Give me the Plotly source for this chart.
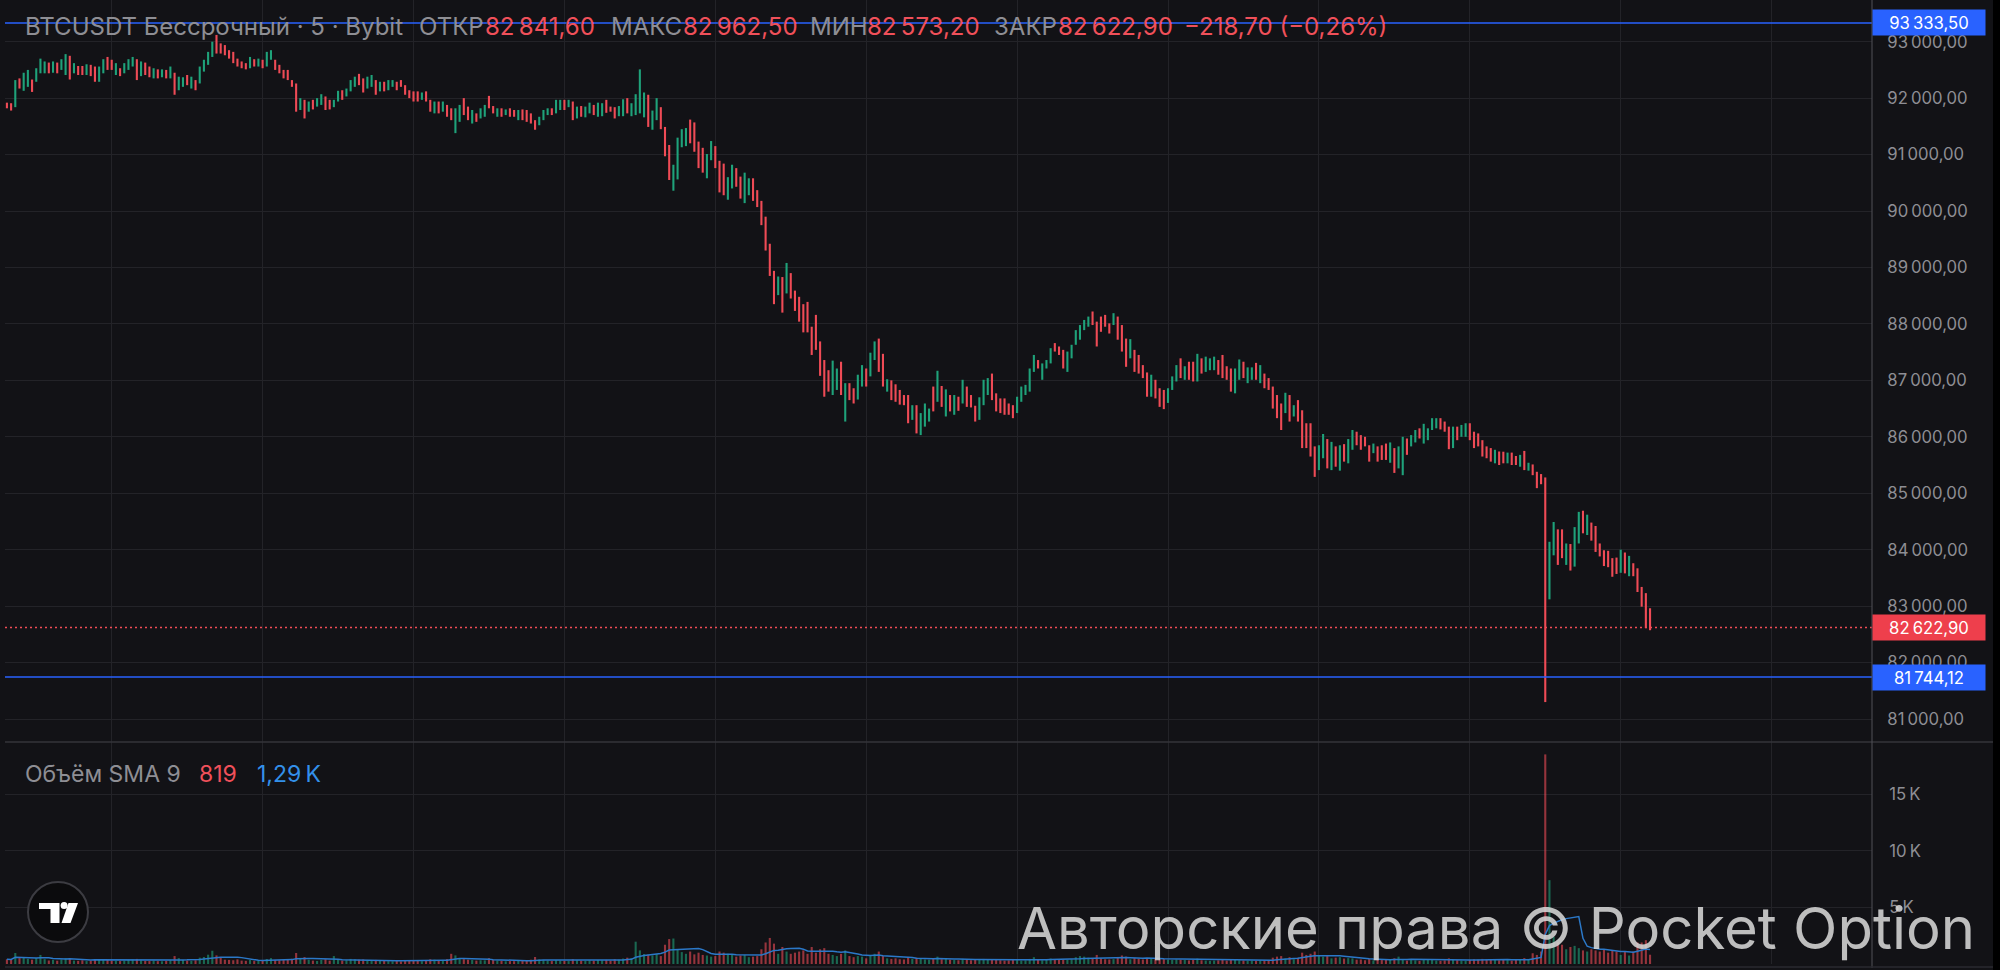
import plotly.graph_objects as go
import pandas as pd

# BTCUSDT perpetual, 5 min bars
bar_low = [
    91820, 91780, 91840, 92170, 92130, 92200, 92110, 92290, 92440, 92440,
    92440, 92450, 92440, 92500, 92410, 92330, 92440, 92410, 92410, 92410,
    92390, 92290, 92290, 92440, 92500, 92500, 92410, 92390, 92440, 92500,
    92560, 92320, 92390, 92410, 92370, 92350, 92350, 92370, 92350, 92350,
    92060, 92140, 92200, 92230, 92170, 92140, 92260, 92470, 92590, 92730,
    92790, 92790, 92760, 92700, 92620, 92560, 92530, 92510, 92530, 92560,
    92560, 92530, 92560, 92680, 92500, 92440, 92350, 92320, 92200, 91760,
    91790, 91640, 91760, 91800, 91850, 91880, 91790, 91800, 91840, 91940,
    91970, 92030, 92120, 92200, 92230, 92100, 92170, 92200, 92060, 92120,
    92120, 92140, 92200, 92140, 92200, 92060, 92000, 91940, 91940, 91970,
    91940, 91760, 91730, 91730, 91760, 91670, 91610, 91380, 91580, 91700,
    91610, 91550, 91580, 91640, 91670, 91820, 91730, 91670, 91670, 91700,
    91670, 91670, 91610, 91610, 91580, 91550, 91440, 91520, 91610, 91700,
    91700, 91730, 91790, 91790, 91840, 91610, 91640, 91670, 91660, 91730,
    91700, 91670, 91680, 91740, 91760, 91640, 91680, 91680, 91730, 91680,
    91700, 91730, 91660, 91490, 91440, 91610, 91450, 90970, 90550, 90360,
    90560, 91130, 91150, 91200, 91050, 90760, 90680, 90580, 90900, 90760,
    90330, 90280, 90200, 90400, 90430, 90220, 90140, 90280, 90180, 90070,
    89750, 89300, 88850, 88350, 88510, 88200, 88540, 88450, 88230, 88040,
    87850, 87850, 87450, 87540, 87080, 86710, 86800, 86740, 86830, 86740,
    86270, 86650, 86590, 86660, 86890, 86890, 87070, 87360, 87150, 86890,
    86800, 86650, 86620, 86570, 86560, 86240, 86300, 86060, 86030, 86180,
    86270, 86450, 86620, 86530, 86360, 86450, 86390, 86460, 86590, 86530,
    86520, 86270, 86300, 86560, 86740, 86650, 86450, 86420, 86390, 86390,
    86330, 86420, 86620, 86740, 86800, 87150, 87210, 87010, 87210, 87300,
    87510, 87450, 87210, 87150, 87390, 87630, 87720, 87890, 87950, 87980,
    87600, 87860, 87950, 87830, 87980, 87720, 87510, 87240, 87390, 87150,
    87120, 87040, 86710, 86710, 86680, 86530, 86490, 86600, 86830, 86980,
    87040, 87010, 87010, 86980, 86980, 87120, 87150, 87180, 87180, 87100,
    87040, 87010, 86800, 86770, 87010, 87040, 86950, 87010, 87010, 86950,
    86860, 86830, 86500, 86330, 86120, 86420, 86270, 86360, 86270, 85800,
    85800, 85650, 85290, 85410, 85620, 85440, 85410, 85470, 85400, 85560,
    85530, 85770, 85850, 85770, 85830, 85560, 85710, 85560, 85590, 85590,
    85540, 85360, 85440, 85320, 85680, 85830, 85900, 85970, 85880, 85940,
    86120, 86150, 86130, 86090, 85780, 85800, 85940, 86000, 86000, 85940,
    85800, 85830, 85650, 85620, 85560, 85530, 85500, 85530, 85530, 85500,
    85500, 85470, 85410, 85400, 85320, 85090, 85160, 81300, 83120, 83900,
    83730, 83850, 83730, 83630, 83700, 84110, 84290, 84260, 84160, 83960,
    83880, 83710, 83690, 83520, 83570, 83590, 83580, 83530, 83530, 83250,
    82990, 82610, 82573.2,
]

bar_high = [
    91920, 91910, 92320, 92350, 92450, 92500, 92330, 92530, 92700, 92650,
    92630, 92650, 92630, 92690, 92780, 92750, 92620, 92570, 92570, 92600,
    92590, 92560, 92560, 92690, 92730, 92680, 92620, 92530, 92620, 92690,
    92730, 92690, 92650, 92630, 92560, 92530, 92510, 92510, 92500, 92560,
    92450, 92380, 92370, 92410, 92380, 92320, 92560, 92680, 92820, 93000,
    93120, 92970, 92940, 92850, 92820, 92700, 92650, 92620, 92730, 92690,
    92700, 92680, 92820, 92850, 92680, 92590, 92500, 92500, 92320, 92260,
    92000, 91970, 91940, 91970, 92000, 92070, 92030, 91970, 91970, 92130,
    92140, 92170, 92320, 92380, 92430, 92350, 92380, 92410, 92320, 92290,
    92290, 92320, 92320, 92290, 92320, 92230, 92140, 92120, 92120, 92100,
    92120, 91970, 91940, 91940, 91940, 91880, 91820, 91820, 91880, 92000,
    91850, 91790, 91730, 91820, 91880, 92040, 91860, 91820, 91820, 91800,
    91820, 91790, 91790, 91800, 91790, 91730, 91610, 91670, 91790, 91820,
    91820, 91970, 91970, 91970, 91970, 91940, 91850, 91860, 91850, 91920,
    91880, 91920, 91910, 91970, 91850, 91840, 91860, 91980, 92000, 91910,
    92070, 92510, 92100, 92060, 91780, 92000, 91840, 91490, 91170, 90820,
    91300, 91450, 91470, 91620, 91570, 91230, 91120, 91010, 91240, 91150,
    90890, 90840, 90600, 90820, 90760, 90610, 90680, 90580, 90580, 90370,
    90180, 89900, 89420, 88940, 88840, 88830, 89080, 88900, 88590, 88480,
    88350, 88390, 87950, 88160, 87690, 87360, 87180, 87350, 87210, 87330,
    86950, 86950, 86860, 87100, 87270, 87210, 87490, 87690, 87740, 87470,
    87020, 87000, 86930, 86830, 86740, 86740, 86560, 86560, 86420, 86590,
    86500, 86890, 87170, 86900, 86840, 86740, 86740, 86710, 87010, 86890,
    86740, 86550, 86700, 87010, 87040, 87120, 86770, 86680, 86680, 86590,
    86560, 86710, 86890, 86920, 87210, 87450, 87360, 87300, 87360, 87570,
    87660, 87600, 87540, 87510, 87630, 87890, 87980, 88070, 88130, 88220,
    88040, 88130, 88160, 88010, 88190, 88130, 87980, 87740, 87730, 87540,
    87450, 87270, 87140, 87100, 87010, 86860, 86830, 86860, 87070, 87270,
    87390, 87250, 87330, 87330, 87470, 87390, 87420, 87390, 87420, 87360,
    87450, 87250, 87210, 87210, 87370, 87330, 87230, 87230, 87310, 87270,
    87120, 87040, 86890, 86740, 86590, 86780, 86740, 86560, 86650, 86470,
    86240, 86240, 85830, 85850, 86050, 85960, 85910, 85830, 85850, 85870,
    85960, 86120, 86090, 86030, 86000, 85850, 85880, 85830, 85850, 85880,
    85900, 85800, 85830, 86000, 85970, 86030, 86120, 86150, 86230, 86150,
    86330, 86330, 86330, 86270, 86180, 86180, 86180, 86210, 86240, 86240,
    86090, 86060, 85940, 85830, 85800, 85770, 85740, 85736, 85720, 85720,
    85660, 85680, 85750, 85540, 85510, 85380, 85340, 85280, 84140, 84490,
    84360, 84360, 84110, 84100, 84400, 84670, 84690, 84620, 84480, 84420,
    84110, 83990, 83980, 83850, 83860, 84000, 83950, 83890, 83760, 83670,
    83340, 83230, 82962.5,
]

# u = close above open (green), d = close below open (red)
bar_dir = "".join([
    "dduduuduuu", "duduududdu", "dduudduduu", "ududdududu", "duududuuuu",
    "ddddddddud", "uduudddddd", "ududuudduu", "duuudduudu", "duuddddddu",
    "ddududduud", "duduuddudu", "ddudddduuu", "duudududuu", "duuddduudu",
    "uuuduudddu", "uuudddduud", "dduudduudd", "ddddududdd", "ddddddduud",
    "udduuduudd", "udddddudu" "u", "ududududud", "dduuuddddd", "duuuuuduuu",
    "ddduuuuuud", "dddduddd" "ud", "ddduddduuu", "duddudu" "uud", "ddduudu" "udu",
    "dddddudu" "dd", "ddduudud" "ud", "uuddddu" "ddd", "uduuduudu" "u", "uudddudu" "ud",
    "dddddudd" "ud", "dudu" "dddduu", "ddudu" "udu" "dd", "dddddudu" "dd",
    "ddd",
])

volume = [
    420, 380, 970, 520, 610, 450, 380, 520, 800, 430,
    310, 360, 290, 400, 520, 480, 300, 280, 330, 260,
    300, 420, 380, 350, 410, 300, 280, 260, 300, 350,
    390, 450, 320, 280, 260, 300, 250, 240, 280, 330,
    700, 520, 360, 300, 280, 330, 560, 620, 820, 1170,
    760, 540, 380, 360, 330, 410, 300, 280, 350, 260,
    280, 300, 440, 520, 360, 330, 380, 420, 460, 970,
    520, 610, 380, 300, 270, 360, 420, 300, 700, 360,
    300, 330, 450, 420, 380, 400, 310, 300, 360, 280,
    270, 250, 240, 260, 230, 300, 330, 310, 280, 250,
    270, 420, 380, 340, 300, 430, 900, 760, 480, 430,
    380, 350, 300, 330, 320, 520, 360, 300, 280, 240,
    260, 250, 300, 280, 330, 380, 620, 400, 350, 300,
    260, 340, 300, 280, 260, 420, 330, 300, 280, 320,
    300, 350, 330, 360, 300, 420, 380, 480, 560, 520,
    1970, 1200, 880, 820, 760, 880, 700, 1700, 2200, 2250,
    1300, 1050, 900, 1100, 850, 1000, 800, 750, 650, 700,
    1100, 1000, 900, 800, 650, 750, 800, 600, 650, 700,
    1300, 1900, 2300, 1800, 900, 1500, 1100, 900, 1000, 1100,
    1200, 900, 1500, 1000, 1300, 1400, 900, 800, 700, 900,
    1200, 700, 600, 700, 650, 500, 800, 900, 1100, 700,
    500, 450, 500, 420, 400, 600, 450, 550, 450, 400,
    380, 500, 650, 420, 480, 380, 350, 330, 450, 380,
    330, 420, 400, 450, 380, 420, 360, 330, 300, 320,
    350, 330, 300, 320, 450, 600, 380, 330, 360, 480,
    420, 360, 400, 380, 420, 600, 700, 650, 560, 520,
    800, 500, 420, 400, 430, 600, 750, 650, 420, 520,
    450, 400, 520, 480, 420, 480, 440, 380, 360, 400,
    380, 350, 320, 360, 480, 330, 300, 280, 300, 320,
    360, 300, 420, 400, 330, 310, 280, 300, 280, 300,
    330, 350, 560, 650, 700, 480, 600, 420, 550, 1000,
    800, 900, 1100, 700, 650, 700, 500, 560, 600, 480,
    520, 500, 380, 400, 330, 450, 320, 380, 350, 360,
    420, 500, 650, 380, 300, 350, 320, 280, 400, 350,
    380, 300, 280, 320, 500, 420, 330, 300, 280, 360,
    420, 380, 450, 400, 420, 380, 330, 360, 340, 300,
    380, 400, 520, 450, 950, 800, 1100, 18500, 7400, 2400,
    1900, 1700, 1300, 1500, 1600, 1400, 1200, 1100, 1300, 1200,
    1100, 1250, 1000, 1150, 1100, 800, 1100, 750, 1100, 1900,
    1900, 2100, 819,
]

price_ticks = [81000, 82000, 83000, 84000, 85000, 86000, 87000,
               88000, 89000, 90000, 91000, 92000, 93000]
price_labels = ["81\u202f000,00", "82\u202f000,00", "83\u202f000,00", "84\u202f000,00",
                "85\u202f000,00", "86\u202f000,00", "87\u202f000,00", "88\u202f000,00",
                "89\u202f000,00", "90\u202f000,00", "91\u202f000,00", "92\u202f000,00",
                "93\u202f000,00"]
vol_ticks = [5000, 10000, 15000]
vol_labels = ["5\u202fK", "10\u202fK", "15\u202fK"]

last_close = 82622.90
line_high = 93333.50
line_low = 81744.12

assert len(bar_low) == len(bar_high) == len(bar_dir) == len(volume), (
    len(bar_low), len(bar_high), len(bar_dir), len(volume))

BG = "#121216"
GRID = "#232328"
GREEN = "#1fa27a"
RED = "#ef4b56"
RED_TXT = "#f0505a"
GRAY = "#8e8e94"
BLUE = "#2962ff"
FONT = "Inter, Roboto, sans-serif"

# page pixel layout: plot area x 5..1872, y 0..964
L, R, T, B = 5, 128, 0, 6
W, H = 2000, 970
PW, PH = W - L - R, H - T - B


def px_x(px):
    return (px - L) / PW


def px_y(py):
    return (H - B - py) / PH


n = len(bar_low)
xs = list(range(n))
up = [d == "u" for d in bar_dir]
candle_col = [GREEN if u else RED for u in up]
vol_col = ["rgba(31,162,122,0.6)" if u else "rgba(239,75,86,0.6)" for u in up]
sma = pd.Series(volume).rolling(9, min_periods=1).mean()

fig = go.Figure()
fig.add_trace(go.Bar(
    x=xs, base=bar_low, y=[h - l for h, l in zip(bar_high, bar_low)],
    width=0.5, marker=dict(color=candle_col, line=dict(width=0)),
    yaxis="y", hoverinfo="skip",
))
fig.add_trace(go.Bar(
    x=xs, y=volume, width=0.5, marker=dict(color=vol_col, line=dict(width=0)),
    yaxis="y2", hoverinfo="skip",
))
fig.add_trace(go.Scatter(
    x=xs, y=sma, mode="lines", line=dict(color="#2b78c8", width=1.5),
    yaxis="y2", hoverinfo="skip",
))

split = px_y(742)
x_grid = [25 + 36 * k for k in range(12)]

fig.update_layout(
    width=W, height=H,
    margin=dict(l=L, r=R, t=T, b=B),
    paper_bgcolor=BG, plot_bgcolor=BG,
    showlegend=False, barmode="overlay",
    font=dict(family=FONT, color=GRAY, size=16.7),
    xaxis=dict(range=[-0.455, 444.95], tickvals=x_grid, showticklabels=False,
               showgrid=True, gridcolor=GRID, gridwidth=1, zeroline=False,
               ticks="", anchor="y2", fixedrange=True),
    yaxis=dict(domain=[split, 1], range=[80592.6, 93738.8], side="right",
               tickvals=price_ticks, ticktext=price_labels,
               showgrid=True, gridcolor=GRID, gridwidth=1, zeroline=False,
               ticks="outside", ticklen=11, tickcolor=BG,
               tickfont=dict(size=16.7, color=GRAY)),
    yaxis2=dict(domain=[0, split], range=[0, 19594], side="right",
                tickvals=vol_ticks, ticktext=vol_labels,
                showgrid=True, gridcolor=GRID, gridwidth=1, zeroline=False,
                ticks="outside", ticklen=13, tickcolor=BG,
                tickfont=dict(size=16.7, color=GRAY)),
)

shapes = []
# horizontal levels
shapes.append(dict(type="line", xref="paper", yref="y", x0=0, x1=1,
                   y0=line_high, y1=line_high, line=dict(color=BLUE, width=1.5)))
shapes.append(dict(type="line", xref="paper", yref="y", x0=0, x1=1,
                   y0=line_low, y1=line_low, line=dict(color=BLUE, width=1.5)))
shapes.append(dict(type="line", xref="paper", yref="y", x0=0, x1=1,
                   y0=last_close, y1=last_close,
                   line=dict(color=RED, width=1.5, dash="2px,3px")))
# pane separator, axis line, right edge
shapes.append(dict(type="line", xref="paper", yref="paper", x0=0, x1=px_x(1993),
                   y0=split, y1=split, line=dict(color="#34343a", width=1.5)))
shapes.append(dict(type="line", xref="paper", yref="paper", x0=1, x1=1,
                   y0=px_y(968), y1=1, line=dict(color="#505056", width=1)))
shapes.append(dict(type="line", xref="paper", yref="paper", x0=0, x1=px_x(1993),
                   y0=px_y(967), y1=px_y(967), line=dict(color="#2a2a30", width=1.5)))
shapes.append(dict(type="rect", xref="paper", yref="paper", x0=px_x(1993), x1=px_x(2005),
                   y0=-0.05, y1=1.05, fillcolor="#000000", line=dict(width=0)))
# TradingView badge
ax, ay = px_x(58), px_y(912)
badge = dict(xref="paper", yref="paper", xsizemode="pixel", ysizemode="pixel",
             xanchor=ax, yanchor=ay, layer="above")
shapes.append(dict(badge, type="circle", x0=-30, x1=30, y0=-30, y1=30,
                   fillcolor="#0b0b0d", line=dict(color="#3c3c42", width=2)))
shapes.append(dict(badge, type="path",
                   path="M -19,9 L 1.5,9 L 1.5,-11 L -7.5,-11 L -7.5,3 L -19,3 Z",
                   fillcolor="#ffffff", line=dict(width=0)))
shapes.append(dict(badge, type="circle", x0=2.6, x1=9.6, y0=3, y1=10,
                   fillcolor="#ffffff", line=dict(width=0)))
shapes.append(dict(badge, type="path",
                   path="M 10.5,9 L 20,9 L 12.5,-11 L 3.5,-11 Z",
                   fillcolor="#ffffff", line=dict(width=0)))
fig.update_layout(shapes=shapes)

ann = []


def label(text, px, py, size, color, anchor="left"):
    ann.append(dict(text=text, x=px_x(px), y=px_y(py), xref="paper", yref="paper",
                    xanchor=anchor, yanchor="middle", showarrow=False,
                    font=dict(family=FONT, size=size, color=color)))


hy, hs = 26.5, 24
label("BTCUSDT Бессрочный · 5 · Bybit", 23, hy, hs, GRAY)
label("ОТКР", 417, hy, hs, GRAY)
label("82\u202f841,60", 483, hy, hs, RED_TXT)
label("МАКС", 609, hy, hs, GRAY)
label("82\u202f962,50", 681, hy, hs, RED_TXT)
label("МИН", 808, hy, hs, GRAY)
label("82\u202f573,20", 865, hy, hs, RED_TXT)
label("ЗАКР", 992, hy, hs, GRAY)
label("82\u202f622,90", 1056, hy, hs, RED_TXT)
label("\u2212218,70 (\u22120,26%)", 1182, hy, hs, RED_TXT)

vy, vs = 774, 23
label("Объём SMA 9", 23, vy, vs, GRAY)
label("819", 197, vy, vs, RED_TXT)
label("1,29\u202fK", 255, vy, vs, "#3390ea")

# price tags on the axis
for price, text, col in [(line_high, "93\u202f333,50", BLUE),
                         (last_close, "82\u202f622,90", "#ee3f4c"),
                         (line_low, "81\u202f744,12", BLUE)]:
    ann.append(dict(text=text, x=1, y=price, xref="paper", yref="y",
                    xanchor="left", yanchor="middle", showarrow=False,
                    width=112, height=25, align="center", bgcolor=col,
                    borderpad=0, font=dict(family=FONT, size=16.7, color="#ffffff")))

# watermark
ann.append(dict(text="Авторские права © Pocket Option", x=px_x(1977), y=px_y(928),
                xref="paper", yref="paper", xanchor="right", yanchor="middle",
                showarrow=False,
                font=dict(family=FONT, size=58, color="rgba(214,214,214,0.88)")))

fig.update_layout(annotations=ann)

fig.write_html("out.html",
               config={"displayModeBar": False},
               post_script="document.body.style.margin='0';"
                           "document.body.style.overflow='hidden';")
